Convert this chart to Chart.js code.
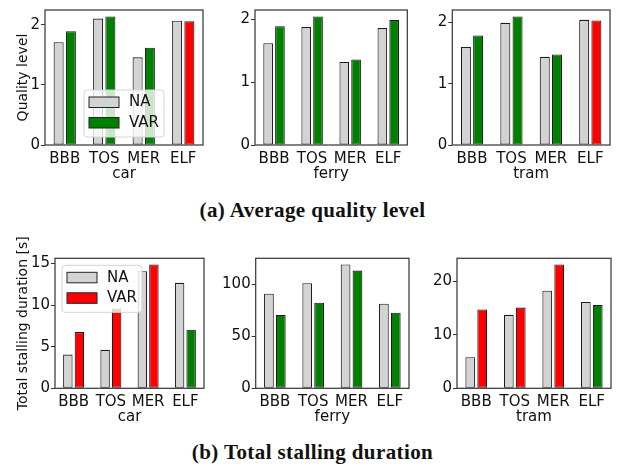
<!DOCTYPE html>
<html>
<head>
<meta charset="utf-8">
<script src="https://cdn.jsdelivr.net/npm/chart.js@4.4.1/dist/chart.umd.min.js"></script>
<style>
  html, body { margin: 0; padding: 0; background: #fff; }
  #wrap { position: relative; width: 625px; height: 470px; overflow: hidden; background: #fff; }
  canvas { position: absolute; }
  .cap { position: absolute; left: 0; width: 625px; text-align: center; font-family: "Liberation Serif", "DejaVu Serif", serif; font-weight: bold; font-size: 21px; line-height: 21px; letter-spacing: 0.4px; color: #111; white-space: nowrap; }
</style>
</head>
<body>
<div id="wrap">
  <div class="cap" style="top:200px;">(a) Average quality level</div>
  <div class="cap" style="top:442px;">(b) Total stalling duration</div>
</div>
<script>
// ---- data ----
const categories = ['BBB', 'TOS', 'MER', 'ELF'];
const seriesNames = ['NA', 'VAR'];
const transports = ['car', 'ferry', 'tram'];

const qualityCarNA    = [1.71, 2.105, 1.46, 2.07];
const qualityCarVAR   = [1.895, 2.14, 1.62, 2.06];
const qualityFerryNA  = [1.62, 1.875, 1.32, 1.86];
const qualityFerryVAR = [1.89, 2.045, 1.36, 1.99];
const qualityTramNA   = [1.60, 1.995, 1.44, 2.045];
const qualityTramVAR  = [1.79, 2.10, 1.48, 2.035];

const stallCarNA    = [4.05, 4.62, 14.07, 12.67];
const stallCarVAR   = [6.75, 9.57, 14.87, 7.03];
const stallFerryNA  = [91.3, 101.3, 119.4, 81.6];
const stallFerryVAR = [70.7, 82.6, 113.5, 72.9];
const stallTramNA   = [5.8, 13.7, 18.2, 16.1];
const stallTramVAR  = [14.7, 15.06, 23.1, 15.56];

const qualityTickSteps = [1, 1, 1];
const stallTickSteps = [5, 50, 10];

// ---- styling ----
const FONT = { family: 'DejaVu Sans', size: 15 };
const YTITLE_FONT = { family: 'DejaVu Sans', size: 14 };
const TXT = '#111';
const NA_COLOR = '#d3d3d3';
const GOOD = '#008000';
const BAD = '#ff0000';

const frame = {
  id: 'frame',
  afterDatasetsDraw(chart) {
    const { ctx, chartArea: a } = chart;
    ctx.save();
    ctx.strokeStyle = '#3a3a3a';
    ctx.lineWidth = 1.25;
    ctx.strokeRect(a.left, a.top, a.right - a.left, a.bottom - a.top);
    ctx.restore();
  }
};

function makeLegend(loc) {
  return {
    id: 'insideLegend',
    afterDraw(chart) {
      const { ctx, chartArea: a } = chart;
      const w = 80, h = 47;
      let x, y;
      if (loc === 'lower center') { x = (a.left + a.right) / 2 - w / 2; y = a.bottom - 8 - h; }
      else { x = a.left + 7; y = a.top + 7; }
      ctx.save();
      ctx.beginPath();
      if (ctx.roundRect) ctx.roundRect(x, y, w, h, 3); else ctx.rect(x, y, w, h);
      ctx.fillStyle = 'rgba(255,255,255,0.8)';
      ctx.fill();
      ctx.strokeStyle = '#d4d4d4';
      ctx.lineWidth = 1;
      ctx.stroke();
      chart.data.datasets.forEach((ds, i) => {
        const py = y + 7 + i * 20.5;
        const col = Array.isArray(ds.backgroundColor) ? ds.backgroundColor[0] : ds.backgroundColor;
        ctx.fillStyle = col;
        ctx.fillRect(x + 5, py, 30, 10.5);
        ctx.strokeStyle = '#222';
        ctx.lineWidth = 1;
        ctx.strokeRect(x + 5, py, 30, 10.5);
        ctx.fillStyle = TXT;
        ctx.font = '15px "DejaVu Sans"';
        ctx.textBaseline = 'middle';
        ctx.textAlign = 'left';
        ctx.fillText(ds.label, x + 45, py + 5.5);
      });
      ctx.restore();
    }
  };
}

function makeChart(rect, area, xTitle, yTitle, na, vv, higherBetter, step, legendLoc, titleBottomPad) {
  const cv = document.createElement('canvas');
  cv.width = rect.w; cv.height = rect.h;
  cv.style.left = rect.x + 'px'; cv.style.top = rect.y + 'px';
  cv.style.width = rect.w + 'px'; cv.style.height = rect.h + 'px';
  document.getElementById('wrap').appendChild(cv);
  const varColors = vv.map((v, i) => (higherBetter ? v >= na[i] : v <= na[i]) ? GOOD : BAD);
  const ymax = Math.max(...na, ...vv) * 1.05;
  const plugins = [frame];
  if (legendLoc) plugins.push(makeLegend(legendLoc));
  const common = { borderColor: '#1a1a1a', borderWidth: 1.1, borderSkipped: false, categoryPercentage: 0.62, barPercentage: 0.82 };
  return new Chart(cv.getContext('2d'), {
    type: 'bar',
    data: {
      labels: categories,
      datasets: [
        Object.assign({ label: seriesNames[0], data: na, backgroundColor: NA_COLOR }, common),
        Object.assign({ label: seriesNames[1], data: vv, backgroundColor: varColors }, common)
      ]
    },
    plugins,
    options: {
      responsive: false, animation: false, devicePixelRatio: 1,
      layout: { padding: { left: 0, top: area.t - rect.y, right: rect.x + rect.w - area.r, bottom: 0 } },
      plugins: { legend: { display: false }, tooltip: { enabled: false } },
      scales: {
        x: {
          offset: true,
          grid: { display: true, drawOnChartArea: false, drawTicks: false, offset: false },
          border: { display: false },
          ticks: { font: FONT, color: TXT, padding: 5, maxRotation: 0, autoSkip: false },
          title: { display: true, text: xTitle, font: FONT, color: TXT, padding: { top: 0, bottom: titleBottomPad } },
          afterFit(s) { s.height = rect.y + rect.h - area.b; }
        },
        y: {
          min: 0, max: ymax,
          grid: { display: true, drawOnChartArea: false, tickLength: 4, color: '#333', lineWidth: 1 },
          border: { display: false },
          ticks: { stepSize: step, includeBounds: false, font: FONT, color: TXT, padding: 1 },
          title: { display: !!yTitle, text: yTitle || '', font: YTITLE_FONT, color: TXT, padding: { top: 14.5, bottom: 0 } },
          afterFit(s) { s.width = area.l - rect.x; }
        }
      }
    }
  });
}

// top row: quality level
makeChart({ x: 0, y: 0, w: 210, h: 190 }, { l: 45, r: 203, t: 2.7, b: 145 }, transports[0], 'Quality level',
  qualityCarNA, qualityCarVAR, true, qualityTickSteps[0], 'lower center', 7);
makeChart({ x: 210, y: 0, w: 205, h: 190 }, { l: 255, r: 407.3, t: 1.7, b: 145 }, transports[1], null,
  qualityFerryNA, qualityFerryVAR, true, qualityTickSteps[1], null, 7);
makeChart({ x: 415, y: 0, w: 210, h: 190 }, { l: 452.3, r: 610, t: 1.7, b: 145 }, transports[2], null,
  qualityTramNA, qualityTramVAR, true, qualityTickSteps[2], null, 7);

// bottom row: stalling duration
makeChart({ x: 0, y: 230, w: 210, h: 200 }, { l: 55, r: 204, t: 258.3, b: 388.3 }, transports[0], 'Total stalling duration [s]',
  stallCarNA, stallCarVAR, false, stallTickSteps[0], 'upper left', 4);
makeChart({ x: 210, y: 230, w: 205, h: 200 }, { l: 255.7, r: 409, t: 258.3, b: 388.3 }, transports[1], null,
  stallFerryNA, stallFerryVAR, false, stallTickSteps[1], null, 4);
makeChart({ x: 415, y: 230, w: 210, h: 200 }, { l: 457, r: 611, t: 258.3, b: 388.3 }, transports[2], null,
  stallTramNA, stallTramVAR, false, stallTickSteps[2], null, 4);
</script>
</body>
</html>
